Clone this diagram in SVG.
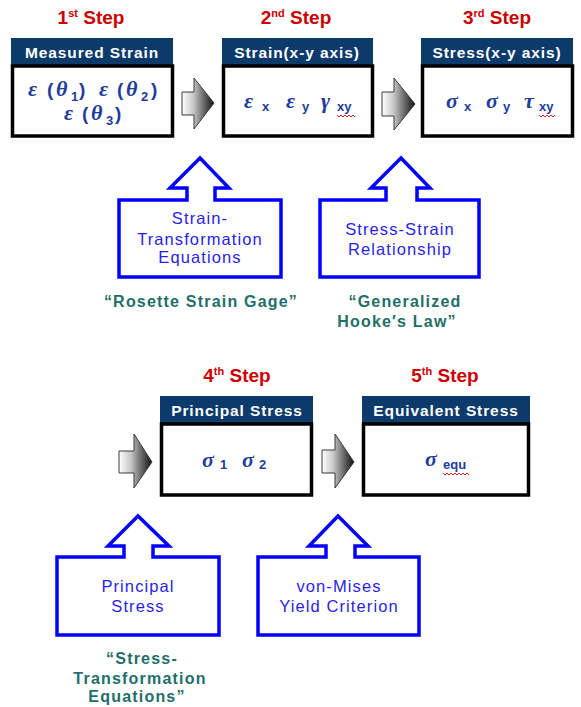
<svg xmlns="http://www.w3.org/2000/svg" width="581" height="707" viewBox="0 0 581 707">
<defs>
<linearGradient id="ga" x1="0" y1="0" x2="1" y2="0">
<stop offset="0" stop-color="#ffffff"/>
<stop offset="0.35" stop-color="#c8c8c8"/>
<stop offset="0.6" stop-color="#808080"/>
<stop offset="1" stop-color="#101010"/>
</linearGradient>
</defs>
<style>
.step{font-family:"Liberation Sans",Arial,sans-serif;font-weight:bold;font-size:19px;fill:#cc0000;text-anchor:middle}
.sup{font-size:11px}
.hdr{fill:#0b3a6b}
.ht{font-family:"Liberation Sans",Arial,sans-serif;font-weight:bold;font-size:15.5px;fill:#ffffff;text-anchor:middle;letter-spacing:0.9px}
.box{fill:#ffffff;stroke:#000000;stroke-width:3.5}
.m{font-family:"Liberation Serif","Times New Roman",serif;font-style:italic;font-weight:bold;font-size:22px;fill:#1e3c9c}
.mp{font-family:"Liberation Sans",Arial,sans-serif;font-style:normal;font-weight:bold;font-size:19px;fill:#1e3c9c}
.s{font-family:"Liberation Sans",Arial,sans-serif;font-style:normal;font-weight:bold;font-size:13px;fill:#1e3c9c}
.ga{fill:url(#ga);stroke:#3a3a3a;stroke-width:1}
.co{fill:#ffffff;stroke:#0000ff;stroke-width:3.5;stroke-linejoin:miter}
.ct{font-family:"Liberation Sans",Arial,sans-serif;font-size:16.5px;fill:#2a1ee6;text-anchor:middle;letter-spacing:1.1px}
.q{font-family:"Liberation Sans",Arial,sans-serif;font-weight:bold;font-size:16px;fill:#236e6a;text-anchor:middle;letter-spacing:1.2px}
.wv{fill:none;stroke:#e02020;stroke-width:1}
</style>

<g id="connectors">
<path class="ga" d="M182,92 H194 V78 L214,103 L194,129 V115 H182 Z"/>
<path class="ga" d="M382,92 H394 V78 L415,104 L394,130 V116 H382 Z"/>
<path class="ga" d="M119,451 H134 V434 L152,462 L134,488 V473 H119 Z"/>
<path class="ga" d="M322,450 H335 V434 L354,462 L335,488 V473 H322 Z"/>
</g>

<g id="step1">
<text class="step" x="91" y="24">1<tspan class="sup" dy="-7">st</tspan><tspan dy="7"> Step</tspan></text>
<rect class="hdr" x="11" y="38" width="162" height="27"/>
<text class="ht" x="92" y="58">Measured Strain</text>
<rect class="box" x="12.5" y="66" width="160" height="70"/>
<text class="m" y="96"><tspan x="28">ε</tspan><tspan class="mp" x="47">(</tspan><tspan x="56">θ</tspan><tspan class="s" x="71" dy="5">1</tspan><tspan class="mp" x="79" dy="-5">)</tspan><tspan x="99">ε</tspan><tspan class="mp" x="117">(</tspan><tspan x="126">θ</tspan><tspan class="s" x="141" dy="5">2</tspan><tspan class="mp" x="151" dy="-5">)</tspan></text>
<text class="m" y="120"><tspan x="64">ε</tspan><tspan class="mp" x="82">(</tspan><tspan x="91">θ</tspan><tspan class="s" x="106" dy="5">3</tspan><tspan class="mp" x="115" dy="-5">)</tspan></text>
</g>

<g id="step2">
<text class="step" x="296" y="24">2<tspan class="sup" dy="-7">nd</tspan><tspan dy="7"> Step</tspan></text>
<rect class="hdr" x="222" y="38" width="151" height="27"/>
<text class="ht" x="297" y="58">Strain(x-y axis)</text>
<rect class="box" x="223.5" y="66" width="149" height="70"/>
<text class="m" y="108"><tspan x="244">ε</tspan><tspan class="s" x="262" dy="3">x</tspan><tspan x="286" dy="-3">ε</tspan><tspan class="s" x="302" dy="3">y</tspan><tspan x="321" dy="-3">γ</tspan><tspan class="s" x="337" dy="3">xy</tspan></text>
<path class="wv" d="M337,115 l2,2 l2,-2 l2,2 l2,-2 l2,2 l2,-2 l2,2 l2,-2 l2,2"/>
</g>

<g id="step3">
<text class="step" x="497" y="24">3<tspan class="sup" dy="-7">rd</tspan><tspan dy="7"> Step</tspan></text>
<rect class="hdr" x="421" y="38" width="152" height="27"/>
<text class="ht" x="497" y="58">Stress(x-y axis)</text>
<rect class="box" x="422.5" y="66" width="150" height="70"/>
<text class="m" y="108"><tspan x="446">σ</tspan><tspan class="s" x="464" dy="3">x</tspan><tspan x="486" dy="-3">σ</tspan><tspan class="s" x="503" dy="3">y</tspan><tspan x="524" dy="-3">τ</tspan><tspan class="s" x="539" dy="3">xy</tspan></text>
<path class="wv" d="M539,115 l2,2 l2,-2 l2,2 l2,-2 l2,2 l2,-2 l2,2 l2,-2"/>
</g>

<g id="callout1">
<path class="co" d="M119,200 H187 V188 H170 L200,158 L229,188 H215 V200 H281 V277 H119 Z"/>
<text class="ct" x="200" y="224">Strain-</text>
<text class="ct" x="200" y="245">Transformation</text>
<text class="ct" x="200" y="263">Equations</text>
</g>

<g id="callout2">
<path class="co" d="M320,200 H386 V188 H371 L401,158 L430,188 H417 V200 H479 V277 H320 Z"/>
<text class="ct" x="400" y="235">Stress-Strain</text>
<text class="ct" x="400" y="255">Relationship</text>
</g>

<g id="note1">
<text class="q" x="201" y="307">“Rosette Strain Gage”</text>
</g>
<g id="note2">
<text class="q" x="405" y="307">“Generalized</text>
<text class="q" x="397" y="327">Hooke′s Law”</text>
</g>

<g id="step4">
<text class="step" x="237" y="382">4<tspan class="sup" dy="-7">th</tspan><tspan dy="7"> Step</tspan></text>
<rect class="hdr" x="160" y="396" width="153" height="27"/>
<text class="ht" x="237" y="416">Principal Stress</text>
<rect class="box" x="161.5" y="424" width="150" height="71"/>
<text class="m" y="467"><tspan x="202">σ</tspan><tspan class="s" x="220" dy="2">1</tspan><tspan x="242" dy="-2">σ</tspan><tspan class="s" x="259" dy="2">2</tspan></text>
</g>

<g id="step5">
<text class="step" x="445" y="382">5<tspan class="sup" dy="-7">th</tspan><tspan dy="7"> Step</tspan></text>
<rect class="hdr" x="362" y="396" width="168" height="27"/>
<text class="ht" x="446" y="416">Equivalent Stress</text>
<rect class="box" x="363.5" y="424" width="165" height="71"/>
<text class="m" y="466"><tspan x="425">σ</tspan><tspan class="s" x="443" dy="3">equ</tspan></text>
<path class="wv" d="M443,473 l2,2 l2,-2 l2,2 l2,-2 l2,2 l2,-2 l2,2 l2,-2 l2,2 l2,-2 l2,2 l2,-2 l2,2"/>
</g>

<g id="callout3">
<path class="co" d="M57,557 H124 V546 H108 L138,516 L169,546 H153 V557 H219 V635 H57 Z"/>
<text class="ct" x="138" y="592">Principal</text>
<text class="ct" x="138" y="612">Stress</text>
</g>

<g id="callout4">
<path class="co" d="M258,557 H326 V546 H309 L338,516 L368,546 H355 V557 H419 V635 H258 Z"/>
<text class="ct" x="339" y="592">von-Mises</text>
<text class="ct" x="339" y="612">Yield Criterion</text>
</g>

<g id="note3">
<text class="q" x="142" y="664">“Stress-</text>
<text class="q" x="140" y="684">Transformation</text>
<text class="q" x="137" y="702">Equations”</text>
</g>
</svg>
